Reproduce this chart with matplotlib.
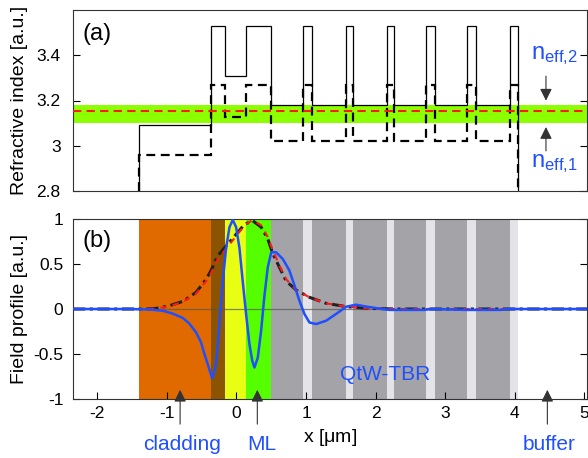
import matplotlib
matplotlib.use("Agg")
import matplotlib.pyplot as plt

plt.rcParams['font.family'] = ['Liberation Sans', 'DejaVu Sans']
plt.rcParams['mathtext.fontset'] = 'custom'
plt.rcParams['mathtext.rm'] = 'Liberation Sans'
plt.rcParams['mathtext.it'] = 'Liberation Sans:italic'

# layer structure (x in um)
edges = [-1.4, -0.37, -0.17, 0.14, 0.49, 0.96, 1.08, 1.57, 1.68, 2.16, 2.27,
         2.73, 2.86, 3.32, 3.45, 3.93, 4.05]
n_solid = [3.09, 3.53, 3.31, 3.53] + [3.18, 3.53] * 6
n_dashed = [2.96, 3.27, 3.125, 3.27] + [3.02, 3.27] * 6
n_eff_band = [3.10, 3.178]
n_eff_line = 3.155

# field profiles
blue_x = [-2.35, -1.54, -1.25, -1.06, -0.92, -0.77, -0.68, -0.58, -0.51, -0.46,
          -0.41, -0.35, -0.30, -0.27, -0.235, -0.197, -0.148, -0.10, -0.053,
          -0.005, 0.043, 0.09, 0.139, 0.187, 0.226, 0.259, 0.307, 0.355, 0.40,
          0.45, 0.50, 0.57, 0.667, 0.76, 0.835, 0.906, 0.978, 1.05, 1.147, 1.29,
          1.43, 1.58, 1.72, 1.87, 2.06, 2.2, 2.7, 2.8, 3.3, 3.8, 3.9, 5.04]
blue_y = [0, 0, -0.005, -0.02, -0.05, -0.10, -0.16, -0.26, -0.37, -0.50,
          -0.62, -0.77, -0.65, -0.43, -0.06, 0.31, 0.68, 0.91, 0.99,
          0.91, 0.68, 0.31, -0.06, -0.39, -0.57, -0.65, -0.54, -0.24, 0.13,
          0.46, 0.63, 0.63, 0.555, 0.43, 0.26, 0.09, -0.056, -0.15, -0.167, -0.13,
          -0.056, 0.026, 0.048, 0.026, 0.004, -0.01, -0.01, 0, -0.01, -0.01, 0, 0]
black_x = [-2.35, -1.3, -1.155, -0.96, -0.77, -0.58, -0.436, -0.364, -0.27,
           -0.148, -0.005, 0.115, 0.235, 0.355, 0.45, 0.52, 0.62, 0.715, 0.86,
           1.05, 1.29, 1.58, 1.91, 2.3, 5.04]
black_y = [0, 0, 0.007, 0.037, 0.085, 0.185, 0.33, 0.43, 0.59,
           0.70, 0.83, 0.94, 0.98, 0.91, 0.78, 0.62, 0.46, 0.31, 0.21,
           0.13, 0.063, 0.026, 0.007, 0, 0]
red_x = black_x
red_y = [0, 0, 0.005, 0.03, 0.08, 0.17, 0.31, 0.40, 0.55,
         0.67, 0.81, 0.93, 0.99, 0.93, 0.80, 0.66, 0.48, 0.33, 0.21,
         0.13, 0.063, 0.026, 0.007, 0, 0]

layer_colors = ['#E06A00', '#8C5400', '#E8FF14', '#55FF00'] + ['#A3A3A8', '#E4E4E8'] * 6
blue = '#1F4FFF'
xlim = (-2.35, 5.04)
arrow = dict(arrowstyle='-|>', color='#333333', lw=0.8, mutation_scale=18)

fig = plt.figure(figsize=(5.88, 4.58), dpi=100)
ax1 = fig.add_axes([73 / 588, 1 - 191 / 458, 514 / 588, 181 / 458])
ax2 = fig.add_axes([73 / 588, 1 - 399 / 458, 514 / 588, 180 / 458])

# ---- (a) refractive index
ax1.axhspan(n_eff_band[0], n_eff_band[1], color='#8CFF00', lw=0, zorder=1)
ax1.axhline(n_eff_line, color='#FF1A1A', ls=(0, (4, 2.5)), lw=1.5, zorder=4)
ax1.stairs(n_solid, edges, baseline=2.8, color='k', lw=0.9, zorder=3)
ax1.stairs(n_dashed, edges, baseline=2.8, color='k', lw=1.6, ls=(0, (4, 2.5)), zorder=3)
ax1.set_xlim(*xlim)
ax1.set_ylim(2.8, 3.6)
ax1.set_yticks([2.8, 3.0, 3.2, 3.4])
ax1.set_yticklabels(['2.8', '3', '3.2', '3.4'])
ax1.tick_params(axis='y', direction='in', right=True, labelsize=12.5, pad=9, length=5)
ax1.tick_params(axis='x', bottom=False, labelbottom=False)
ax1.set_ylabel('Refractive index [a.u.]', fontsize=14)
ax1.yaxis.set_label_coords(-0.088, 0.5)
ax1.text(0.018, 0.87, '(a)', transform=ax1.transAxes, fontsize=17, va='center')

ax1.annotate('', xy=(4.45, 3.187), xytext=(4.45, 3.32), arrowprops=arrow)
ax1.annotate('', xy=(4.45, 3.095), xytext=(4.45, 2.965), arrowprops=arrow)
ax1.text(4.23, 3.40, r'n$_{\rm eff{,}2}$', color=blue, fontsize=17, va='center')
ax1.text(4.23, 2.92, r'n$_{\rm eff{,}1}$', color=blue, fontsize=17, va='center')

# ---- (b) field profile
for i in range(len(layer_colors)):
    ax2.axvspan(edges[i], edges[i + 1], color=layer_colors[i], lw=0, zorder=0)
ax2.axhline(0, color='#555555', lw=0.9, alpha=0.7, zorder=1)
ax2.plot(black_x, black_y, color='#222222', lw=2.2, ls=(0, (4, 1.5, 1, 1.5)), zorder=2)
ax2.plot(red_x, red_y, color='#FF1A1A', lw=1.5, ls=(0, (3, 3)), zorder=3)
ax2.plot(blue_x, blue_y, color=blue, lw=1.8, zorder=4)
ax2.set_xlim(*xlim)
ax2.set_ylim(-1, 1)
ax2.set_xticks(range(-2, 6))
ax2.set_yticks([-1, -0.5, 0, 0.5, 1])
ax2.set_yticklabels(['-1', '-0.5', '0', '0.5', '1'])
ax2.set_xticklabels([str(v) for v in range(-2, 6)])
ax2.tick_params(direction='in', right=True, labelsize=12.5, length=5)
ax2.tick_params(axis='y', pad=7)
ax2.tick_params(axis='x', pad=5)
ax2.set_ylabel('Field profile [a.u.]', fontsize=14)
ax2.yaxis.set_label_coords(-0.088, 0.5)
ax2.set_xlabel(r'x [$\mathrm{\mu}$m]', fontsize=14, labelpad=4)
ax2.text(0.018, 0.878, '(b)', transform=ax2.transAxes, fontsize=17, va='center')
ax2.text(2.14, -0.73, 'QtW-TBR', color=blue, fontsize=15, ha='center', va='center')

labels = [('cladding', -0.78, -0.81), ('ML', 0.37, 0.30), ('buffer', 4.50, 4.47)]
for name, tx, ax_x in labels:
    ax2.annotate('', xy=(ax_x, -0.867), xytext=(ax_x, -1.31), annotation_clip=False,
                 arrowprops=arrow)
    ax2.text(tx, -1.51, name, color=blue, fontsize=15, ha='center', va='center', clip_on=False)

for ax in (ax1, ax2):
    for s in ax.spines.values():
        s.set_color('#333333')
        s.set_linewidth(0.8)

fig.savefig('out.png', dpi=100)
